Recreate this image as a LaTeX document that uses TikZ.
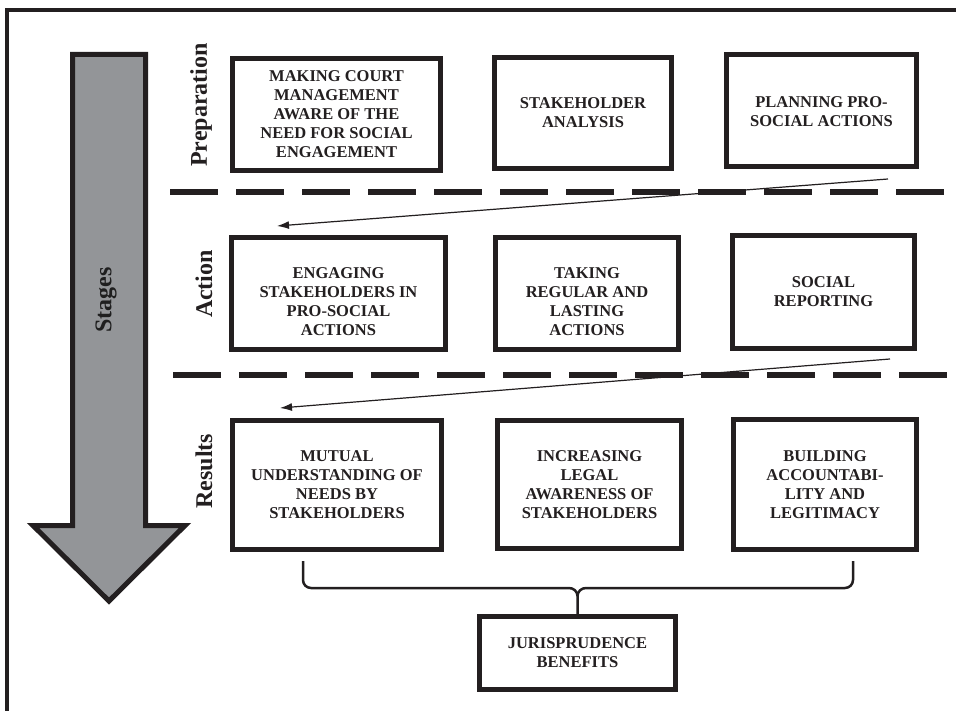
\documentclass[tikz,border=0pt]{standalone}
\usepackage{fontspec}
\setmainfont{Liberation Serif}
\usetikzlibrary{arrows.meta,calc}
\definecolor{ink}{HTML}{231F20}
\definecolor{arrowgray}{HTML}{939598}
\begin{document}
\begin{tikzpicture}[x=1pt,y=-1pt,
  box/.style={draw=ink, line width=5pt, fill=white, inner sep=0pt},
  btext/.style={font=\bfseries\fontsize{16.5}{19}\selectfont, align=center, text=ink, inner sep=0pt},
  stagelabel/.style={font=\bfseries\fontsize{24}{28}\selectfont, rotate=90, text=ink, inner sep=0pt},
  sep/.style={draw=ink, line width=6pt, dash pattern=on 48pt off 18pt},
  flow/.style={draw=ink, line width=1.2pt, -{Latex[length=12pt,width=8pt]}},
  brace/.style={draw=ink, line width=2.5pt, line join=round},
  frame/.style={draw=ink, line width=4pt},
  bigarrow/.style={draw=ink, fill=arrowgray, line width=5pt}
]
\useasboundingbox (0,0) rectangle (956,711);

% outer frame (cropped on right and bottom)
\draw[frame] (7,711) -- (7,10) -- (956,10);

% big stages arrow
\draw[bigarrow] (72.5,54.5) -- (145.5,54.5) -- (145.5,525.5) -- (185,525.5) -- (109,601) -- (33,525.5) -- (72.5,525.5) -- cycle;
\node[stagelabel, text=black!88] (stages) at (106,300) {Stages};

% stage labels
\node[stagelabel] (prep) at (201,105) {Preparation};
\node[stagelabel] (act) at (204,284) {Action};
\node[stagelabel] (res) at (204,471) {Results};

% separators
\draw[sep] (170,192) -- (944,192);
\draw[sep] (173,375) -- (947,375);

% row 1
\node[box, minimum width=208, minimum height=112] (a1) at (336.5,114.5) {};
\node[btext] (a1t) at (a1.center) {MAKING COURT\\MANAGEMENT\\AWARE OF THE\\NEED FOR SOCIAL\\ENGAGEMENT};
\node[box, minimum width=177, minimum height=111] (a2) at (583,113) {};
\node[btext] (a2t) at (a2.center) {STAKEHOLDER\\ANALYSIS};
\node[box, minimum width=190, minimum height=112] (a3) at (821.5,110.5) {};
\node[btext] (a3t) at ($(a3.center)+(0,1.5)$) {PLANNING PRO-\\SOCIAL ACTIONS};

% row 2
\node[box, minimum width=214, minimum height=112] (b1) at (338.5,293.5) {};
\node[btext] (b1t) at ($(b1.center)+(0,8)$) {ENGAGING\\STAKEHOLDERS IN\\PRO-SOCIAL\\ACTIONS};
\node[box, minimum width=183, minimum height=112] (b2) at (587,293.5) {};
\node[btext] (b2t) at ($(b2.center)+(0,8)$) {TAKING\\REGULAR AND\\LASTING\\ACTIONS};
\node[box, minimum width=182, minimum height=113] (b3) at (823.5,292) {};
\node[btext] (b3t) at (b3.center) {SOCIAL\\REPORTING};

% row 3
\node[box, minimum width=209, minimum height=129] (c1) at (337,485) {};
\node[btext] (c1t) at (c1.center) {MUTUAL\\UNDERSTANDING OF\\NEEDS BY\\STAKEHOLDERS};
\node[box, minimum width=184, minimum height=128] (c2) at (589.5,484.5) {};
\node[btext] (c2t) at (c2.center) {INCREASING\\LEGAL\\AWARENESS OF\\STAKEHOLDERS};
\node[box, minimum width=183, minimum height=130] (c3) at (825,484.5) {};
\node[btext] (c3t) at (c3.center) {BUILDING\\ACCOUNTABI-\\LITY AND\\LEGITIMACY};

% result box
\node[box, minimum width=196, minimum height=73] (d) at (577.5,653) {};
\node[btext] (dt) at (d.center) {JURISPRUDENCE\\BENEFITS};

% flow arrows
\draw[flow] ($(a3.south east)+(-31,10)$) -- ($(b1.north west)+(48,-9)$);
\draw[flow] ($(b3.south east)+(-27,8)$) -- ($(c1.north west)+(50,-10)$);

% brace
\coordinate (bl) at (303,561);
\coordinate (br) at (853,561);
\coordinate (bm) at (577.5,596);
\draw[brace] (bl) -- (303,580) to[out=-90,in=180] (311,588) -- (569,588) to[out=0,in=90] (bm) -- (d.north);
\draw[brace] (br) -- (853,580) to[out=-90,in=0] (845,588) -- (586,588) to[out=180,in=90] (bm);
\end{tikzpicture}
\end{document}
